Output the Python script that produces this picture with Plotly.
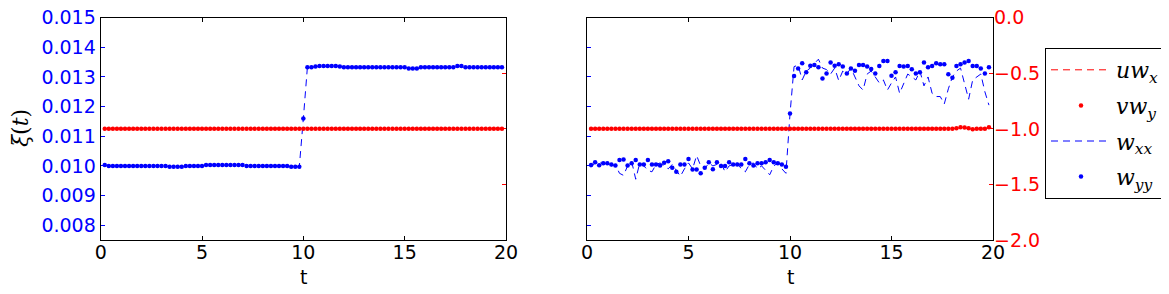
import plotly.graph_objects as go

# time grid (dt = 0.2)
t = [round(0.2 * i, 1) for i in range(1, 100)]

# ---------------- left panel ----------------
left_wyy = ([0.01003, 0.01000, 0.01000, 0.01000, 0.01000, 0.01000, 0.01000, 0.01000, 0.01000, 0.01000,
             0.01000, 0.01000, 0.01000, 0.01000, 0.01000, 0.01000, 0.00997, 0.00997, 0.00997, 0.00997,
             0.01000, 0.01000, 0.01000, 0.01000, 0.01000, 0.01003, 0.01003, 0.01003, 0.01003, 0.01003,
             0.01003, 0.01003, 0.01003, 0.01003, 0.01003, 0.01000, 0.01000, 0.01000, 0.01000, 0.01000,
             0.01000, 0.01000, 0.01000, 0.01000, 0.01000, 0.01000, 0.00997, 0.00997, 0.00997]
            + [0.01160]
            + [0.01333, 0.01333, 0.01335, 0.01337, 0.01337, 0.01337, 0.01337, 0.01337, 0.01335, 0.01333,
               0.01333, 0.01333, 0.01333, 0.01333, 0.01333, 0.01333, 0.01333, 0.01333, 0.01333, 0.01333,
               0.01333, 0.01333, 0.01333, 0.01333, 0.01333, 0.01329, 0.01329, 0.01329, 0.01333, 0.01333,
               0.01333, 0.01333, 0.01333, 0.01333, 0.01333, 0.01333, 0.01333, 0.01337, 0.01337, 0.01333,
               0.01333, 0.01333, 0.01333, 0.01333, 0.01333, 0.01333, 0.01333, 0.01333, 0.01333])
left_wxx = ([0.01002, 0.00999, 0.01000, 0.01000, 0.01000, 0.01000, 0.01000, 0.01000, 0.01000, 0.01000,
             0.01000, 0.01000, 0.01000, 0.01000, 0.01000, 0.01000, 0.00997, 0.00997, 0.00997, 0.00997,
             0.01000, 0.01000, 0.01000, 0.01000, 0.01000, 0.01003, 0.01002, 0.01003, 0.01003, 0.01001,
             0.01003, 0.01003, 0.01003, 0.01001, 0.01003, 0.01000, 0.01000, 0.01000, 0.01000, 0.01000,
             0.01000, 0.01000, 0.01000, 0.01000, 0.01000, 0.01000, 0.00997, 0.00997, 0.00997]
            + [0.01160]
            + [0.01333, 0.01333, 0.01335, 0.01337, 0.01335, 0.01337, 0.01337, 0.01337, 0.01335, 0.01333,
               0.01333, 0.01333, 0.01333, 0.01333, 0.01333, 0.01333, 0.01333, 0.01333, 0.01333, 0.01333,
               0.01333, 0.01333, 0.01333, 0.01333, 0.01333, 0.01329, 0.01329, 0.01329, 0.01333, 0.01333,
               0.01333, 0.01333, 0.01333, 0.01333, 0.01333, 0.01333, 0.01333, 0.01337, 0.01335, 0.01333,
               0.01333, 0.01333, 0.01333, 0.01333, 0.01333, 0.01333, 0.01333, 0.01333, 0.01333])
left_uwx = [-1.0] * 99
left_vwy = [-1.0] * 99

# ---------------- right panel ----------------
right_wyy = ([0.01003, 0.01012, 0.01002, 0.01009, 0.01009, 0.01005, 0.01001, 0.01020, 0.01022, 0.01001,
              0.01009, 0.01020, 0.01005, 0.01005, 0.01020, 0.01005, 0.01005, 0.01001, 0.01011, 0.01016,
              0.00994, 0.00980, 0.01005, 0.01005, 0.01023, 0.00988, 0.00988, 0.00975, 0.00994, 0.01012,
              0.00989, 0.01012, 0.01000, 0.01000, 0.01012, 0.01005, 0.01005, 0.01005, 0.01023, 0.01009,
              0.01001, 0.01009, 0.01009, 0.01012, 0.01020, 0.01012, 0.01009, 0.01005, 0.00997]
             + [0.01177]
             + [0.01303, 0.01329, 0.01346, 0.01316, 0.01338, 0.01340, 0.01333, 0.01295, 0.01312, 0.01349,
                0.01338, 0.01343, 0.01335, 0.01312, 0.01329, 0.01321, 0.01340, 0.01340, 0.01335, 0.01327,
                0.01312, 0.01337, 0.01354, 0.01354, 0.01304, 0.01316, 0.01337, 0.01335, 0.01337, 0.01326,
                0.01312, 0.01316, 0.01349, 0.01333, 0.01337, 0.01346, 0.01343, 0.01343, 0.01309, 0.01297,
                0.01337, 0.01343, 0.01349, 0.01354, 0.01337, 0.01337, 0.01329, 0.01312, 0.01333])
right_wxx = ([0.00995, 0.01010, 0.01015, 0.01005, 0.01010, 0.01000, 0.01005, 0.00975, 0.00968, 0.01000,
              0.01015, 0.00955, 0.01010, 0.01000, 0.00985, 0.00980, 0.01005, 0.01010, 0.01000, 0.00990,
              0.01005, 0.00985, 0.00965, 0.00990, 0.01010, 0.00990, 0.01035, 0.01000, 0.00990, 0.01010,
              0.01000, 0.01005, 0.01010, 0.00980, 0.01000, 0.01005, 0.01010, 0.00990, 0.00980, 0.01005,
              0.01010, 0.00990, 0.01000, 0.00985, 0.00970, 0.01000, 0.01010, 0.00990, 0.00975]
             + [0.01175]
             + [0.01335, 0.01340, 0.01290, 0.01320, 0.01330, 0.01345, 0.01360, 0.01330, 0.01325, 0.01310,
                0.01330, 0.01288, 0.01320, 0.01310, 0.01330, 0.01300, 0.01270, 0.01256, 0.01310, 0.01320,
                0.01300, 0.01280, 0.01290, 0.01256, 0.01280, 0.01300, 0.01245, 0.01280, 0.01310, 0.01300,
                0.01290, 0.01320, 0.01270, 0.01300, 0.01245, 0.01234, 0.01234, 0.01209, 0.01260, 0.01300,
                0.01320, 0.01330, 0.01280, 0.01225, 0.01290, 0.01300, 0.01310, 0.01250, 0.01205])
right_uwx = [-1.0] * 90 + [-0.995, -0.990, -0.990, -1.000, -1.004, -1.000, -1.000, -0.998, -0.990]
right_vwy = [-1.0] * 90 + [-0.995, -0.986, -0.988, -0.995, -1.004, -1.000, -1.000, -0.998, -0.986]

x_ticks = [0, 5, 10, 15, 20]
blue_ticks = [0.008, 0.009, 0.010, 0.011, 0.012, 0.013, 0.014, 0.015]
blue_text = ["0.008", "0.009", "0.010", "0.011", "0.012", "0.013", "0.014", "0.015"]
red_ticks = [-2.0, -1.5, -1.0, -0.5, 0.0]
red_text = ["\u22122.0", "\u22121.5", "\u22121.0", "\u22120.5", "0.0"]

BLUE = "#0000ff"
RED = "#ff0000"

# the page body has an 8px margin: size the figure to fit inside the window
OFF = 8
W, H = 1169 - 2 * OFF, 294 - 2 * OFF


def xp(px):
    return (px - OFF) / W


def yp(py):
    return 1 - (py - OFF) / H


fig = go.Figure()

dash_style = "7px,5px"


def add_panel(xa, ya_blue, ya_red, wxx, wyy, uwx, vwy, show):
    fig.add_trace(go.Scatter(x=t, y=wxx, xaxis=xa, yaxis=ya_blue, mode="lines",
                             line=dict(color=BLUE, width=1, dash=dash_style),
                             name="<i>w</i><sub><i>xx</i></sub>", legendgroup="c", legendrank=3,
                             showlegend=show))
    fig.add_trace(go.Scatter(x=t, y=wyy, xaxis=xa, yaxis=ya_blue, mode="markers",
                             marker=dict(color=BLUE, size=4.5),
                             name="<i>w</i><sub><i>yy</i></sub>", legendgroup="d", legendrank=4,
                             showlegend=show))
    fig.add_trace(go.Scatter(x=t, y=uwx, xaxis=xa, yaxis=ya_red, mode="lines",
                             line=dict(color=RED, width=1, dash=dash_style),
                             name="<i>uw</i><sub><i>x</i></sub>", legendgroup="a", legendrank=1,
                             showlegend=show))
    fig.add_trace(go.Scatter(x=t, y=vwy, xaxis=xa, yaxis=ya_red, mode="markers",
                             marker=dict(color=RED, size=4.5),
                             name="<i>vw</i><sub><i>y</i></sub>", legendgroup="b", legendrank=2,
                             showlegend=show))


add_panel("x", "y", "y2", left_wxx, left_wyy, left_uwx, left_vwy, True)
add_panel("x2", "y3", "y4", right_wxx, right_wyy, right_uwx, right_vwy, False)

tick_font = dict(family="DejaVu Sans", size=19)
ydom = [yp(240), yp(17.7)]
dom1 = [xp(100.7), xp(506)]
dom2 = [xp(587), xp(993)]

xcommon = dict(range=[0, 20], tickvals=x_ticks, ticks="inside", ticklen=4, tickcolor="black",
               showline=True, linecolor="black", linewidth=1.2, mirror="ticks", showgrid=False,
               zeroline=False, tickfont=dict(tick_font, color="black"), automargin=False,
               ticklabeloverflow="allow", ticklabelstandoff=-5)

fig.update_layout(
    width=W, height=H,
    margin=dict(l=0, r=0, t=0, b=0, autoexpand=False),
    paper_bgcolor="white", plot_bgcolor="white",
    xaxis=dict(xcommon, domain=dom1, anchor="y"),
    xaxis2=dict(xcommon, domain=dom2, anchor="y3"),
    yaxis=dict(domain=ydom, range=[0.0075, 0.015], tickvals=blue_ticks, ticktext=blue_text,
               ticks="inside", ticklen=4, tickcolor=BLUE, tickfont=dict(tick_font, color=BLUE),
               showline=True, linecolor="black", linewidth=1.2, mirror=True, showgrid=False,
               zeroline=False, anchor="x", automargin=False, ticklabeloverflow="allow"),
    yaxis2=dict(range=[-2, 0], tickvals=red_ticks, ticktext=red_text, overlaying="y", side="right",
                ticks="inside", ticklen=4, tickcolor=RED, showticklabels=False,
                showline=False, showgrid=False, zeroline=False, anchor="x", automargin=False),
    yaxis3=dict(domain=ydom, range=[0.0075, 0.015], tickvals=blue_ticks,
                ticks="inside", ticklen=4, tickcolor=BLUE, showticklabels=False,
                showline=True, linecolor="black", linewidth=1.2, mirror=True, showgrid=False,
                zeroline=False, anchor="x2", automargin=False),
    yaxis4=dict(range=[-2, 0], tickvals=red_ticks, ticktext=red_text, overlaying="y3", side="right",
                ticks="inside", ticklen=4, tickcolor=RED, tickfont=dict(tick_font, color=RED),
                showline=False, showgrid=False, zeroline=False, anchor="x2", automargin=False,
                ticklabeloverflow="allow"),
    legend=dict(x=xp(1045), y=yp(48), xanchor="left", yanchor="top",
                bordercolor="black", borderwidth=1, bgcolor="white",
                font=dict(family="DejaVu Serif", size=22, color="black"),
                tracegroupgap=4, itemwidth=60, traceorder="grouped"),
    showlegend=True,
)

# axis titles
fig.add_annotation(text="<i>ξ</i>(<i>t</i>)", xref="paper", yref="paper",
                   x=xp(20), y=yp(128), xanchor="center", yanchor="middle",
                   textangle=-90, showarrow=False,
                   font=dict(family="DejaVu Serif", size=22, color="black"))
for xc in (303, 790):
    fig.add_annotation(text="t", xref="paper", yref="paper",
                       x=xp(xc), y=yp(277), xanchor="center", yanchor="middle",
                       showarrow=False,
                       font=dict(family="DejaVu Sans", size=19, color="black"))

fig.write_html("out.html")
